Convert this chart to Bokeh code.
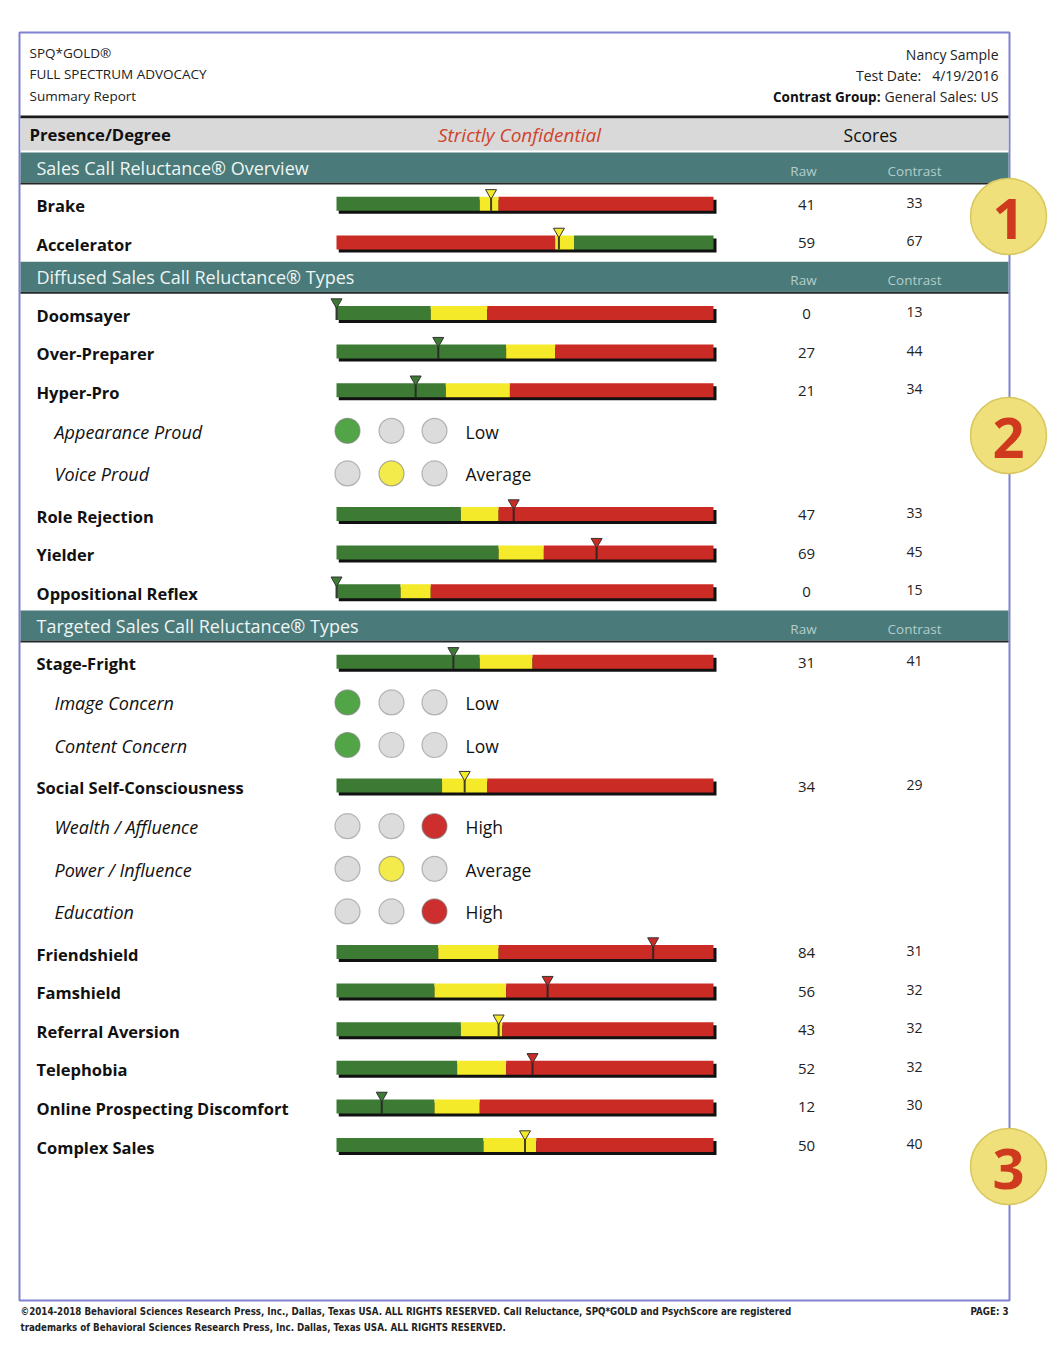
from bokeh.plotting import figure
from bokeh.models import Range1d, ColumnDataSource
from bokeh.embed import file_html
from bokeh.resources import INLINE
from bokeh.core.properties import value

# ---------------- data ----------------
section_titles = ["Sales Call Reluctance\u00ae Overview",
                  "Diffused Sales Call Reluctance\u00ae Types",
                  "Targeted Sales Call Reluctance\u00ae Types"]

bar_names = ["Brake", "Accelerator", "Doomsayer", "Over-Preparer", "Hyper-Pro",
             "Role Rejection", "Yielder", "Oppositional Reflex", "Stage-Fright",
             "Social Self-Consciousness", "Friendshield", "Famshield",
             "Referral Aversion", "Telephobia", "Online Prospecting Discomfort",
             "Complex Sales"]
raw_scores = [41, 59, 0, 27, 21, 47, 69, 0, 31, 34, 84, 56, 43, 52, 12, 50]
contrast_scores = [33, 67, 13, 44, 34, 33, 45, 15, 41, 29, 31, 32, 32, 32, 30, 40]
zone_low_end = [38, 58, 25, 45, 29, 33, 43, 17, 38, 28, 27, 26, 33, 32, 26, 39]
zone_mid_end = [43, 63, 40, 58, 46, 43, 55, 25, 52, 40, 43, 45, 44, 45, 38, 53]
reversed_scale = [False, True] + [False] * 14

sub_names = ["Appearance Proud", "Voice Proud", "Image Concern", "Content Concern",
             "Wealth / Affluence", "Power / Influence", "Education"]
sub_level = [0, 1, 0, 0, 2, 1, 2]
level_labels = ["Low", "Average", "High"]

# row sequence: S = section band, B = bar row, C = circle sub-row
row_sequence = ["S", "B", "B",
                "S", "B", "B", "B", "C", "C", "B", "B", "B",
                "S", "B", "C", "C", "B", "C", "C", "C", "B", "B", "B", "B", "B", "B"]

badge_numbers = ["1", "2", "3"]

# ---------------- styles / layout ----------------
GREEN = "#3d7a34"
YELLOW = "#f4ea2a"
RED = "#cb2b25"
TEAL = "#4a7b7a"
C_GREEN = "#52a547"
C_YELLOW = "#f3ea4c"
C_RED = "#cc2f2d"
C_GRAY = "#dcdcdc"

FONT = value("Open Sans")
BAR_L, BAR_R = 336, 713
W, H = 1048, 1360

p = figure(width=W, height=H, x_range=Range1d(0, W), y_range=Range1d(H, 0),
           output_backend="svg", toolbar_location=None, min_border=0,
           x_axis_type=None, y_axis_type=None)
p.grid.visible = False
p.outline_line_color = None
p.background_fill_color = "white"
p.border_fill_color = "white"

px_per_unit = (BAR_R - BAR_L) / 100.0
p.extra_x_ranges = {"bar": Range1d(-BAR_L / px_per_unit,
                                   100 + (W - BAR_R) / px_per_unit)}

# page border
p.quad(left=[19], right=[1009], top=[32], bottom=[1300], fill_color=None,
       line_color="#8081d0", line_width=2)

# header texts
p.text(x=[29, 29, 29], y=[52, 73, 95],
       text=["SPQ*GOLD\u00ae", "FULL SPECTRUM ADVOCACY", "Summary Report"],
       text_font=FONT, text_font_size="13.5px", text_color="#222222",
       text_baseline="middle")
p.text(x=[998, 998, 998], y=[54, 75, 96],
       text=["Nancy Sample", "Test Date:\u00a0\u00a0 4/19/2016", "General Sales: US"],
       text_font=FONT, text_font_size="14px", text_color="#222222",
       text_align="right", text_baseline="middle")
p.text(x=[880], y=[96], text=["Contrast Group:"], text_font=FONT,
       text_font_size="13.5px", text_font_style="bold", text_color="#111111",
       text_align="right", text_baseline="middle")

# grey title band
p.quad(left=[20], right=[1008], top=[115], bottom=[118], fill_color="#1a1a1a",
       line_color=None)
p.quad(left=[20], right=[1008], top=[118], bottom=[150], fill_color="#d9d9d9",
       line_color=None)
p.text(x=[29], y=[134], text=["Presence/Degree"], text_font=FONT,
       text_font_size="16.7px", text_font_style="bold", text_color="#111111",
       text_baseline="middle")
p.text(x=[519], y=[134], text=["Strictly Confidential"], text_font=FONT,
       text_font_size="19px", text_font_style="italic", text_color="#d0432c",
       text_align="center", text_baseline="middle")
p.text(x=[870], y=[134], text=["Scores"], text_font=FONT, text_font_size="17.5px",
       text_color="#111111", text_align="center", text_baseline="middle")

# ---------------- compute row layout ----------------
BAND_H, BAR_ROW_H, CIRC_ROW_H = 32.0, 38.6, 42.6
y = 152.0
band_tops, bar_y, circ_y = [], [], []
for kind in row_sequence:
    if kind == "S":
        band_tops.append(y)
        y += BAND_H
    elif kind == "B":
        bar_y.append(y + BAR_ROW_H / 2)
        y += BAR_ROW_H
    else:
        circ_y.append(y + CIRC_ROW_H / 2)
        y += CIRC_ROW_H

# section bands
p.quad(left=[20] * 3, right=[1008] * 3, top=band_tops,
       bottom=[t + BAND_H - 2 for t in band_tops], fill_color=TEAL, line_color=None)
p.quad(left=[20] * 3, right=[1008] * 3, top=[t + BAND_H - 2 for t in band_tops],
       bottom=[t + BAND_H for t in band_tops], fill_color="#1f2b2b", line_color=None)
p.text(x=[36] * 3, y=[t + 15 for t in band_tops], text=section_titles,
       text_font=FONT, text_font_size="18px", text_color="#eef4f4",
       text_baseline="middle")
p.text(x=[803] * 3, y=[t + 18 for t in band_tops], text=["Raw"] * 3,
       text_font=FONT, text_font_size="13.5px", text_color="#b4cccc",
       text_align="center", text_baseline="middle")
p.text(x=[914] * 3, y=[t + 18 for t in band_tops], text=["Contrast"] * 3,
       text_font=FONT, text_font_size="13.5px", text_color="#b4cccc",
       text_align="center", text_baseline="middle")

# ---------------- bars ----------------
BH = 7.0  # half bar height (px)
shadow = ColumnDataSource(dict(
    l=[0.6] * len(bar_names), r=[100.8] * len(bar_names),
    t=[yy - BH + 3 for yy in bar_y], b=[yy + BH + 3 for yy in bar_y]))
p.quad(left="l", right="r", top="t", bottom="b", source=shadow,
       fill_color="#111111", line_color=None, x_range_name="bar")

seg_l, seg_r, seg_t, seg_b, seg_c = [], [], [], [], []
mk_x, mk_y, mk_c, ln_top, ln_bot = [], [], [], [], []
for i in range(len(bar_names)):
    colors = [RED, YELLOW, GREEN] if reversed_scale[i] else [GREEN, YELLOW, RED]
    bounds = [0, zone_low_end[i], zone_mid_end[i], 100]
    for k in range(3):
        seg_l.append(bounds[k]); seg_r.append(bounds[k + 1])
        seg_t.append(bar_y[i] - BH); seg_b.append(bar_y[i] + BH)
        seg_c.append(colors[k])
    v = raw_scores[i]
    zone = 0 if v < bounds[1] else (1 if v < bounds[2] else 2)
    mk_x.append(v); mk_y.append(bar_y[i] - BH - 4); mk_c.append(colors[zone])
    ln_top.append(bar_y[i] - BH - 4); ln_bot.append(bar_y[i] + BH)

p.quad(left=seg_l, right=seg_r, top=seg_t, bottom=seg_b, fill_color=seg_c,
       line_color=None, x_range_name="bar")
p.segment(x0=mk_x, x1=mk_x, y0=ln_top, y1=ln_bot, line_color="#222222",
          line_width=2, line_alpha=0.85, x_range_name="bar")
p.scatter(x=mk_x, y=mk_y, marker="inverted_triangle", size=11, fill_color=mk_c,
          line_color="#333333", line_width=1, x_range_name="bar")

# bar labels & scores
p.text(x=[36] * len(bar_names), y=[yy + 2 for yy in bar_y], text=bar_names,
       text_font=FONT, text_font_size="16.5px", text_font_style="bold",
       text_color="#111111", text_baseline="middle")
p.text(x=[806] * len(bar_names), y=[yy + 1 for yy in bar_y],
       text=[str(v) for v in raw_scores], text_font=FONT, text_font_size="15px",
       text_color="#222222", text_align="center", text_baseline="middle")
p.text(x=[914] * len(bar_names), y=[yy - 1 for yy in bar_y],
       text=[str(v) for v in contrast_scores], text_font=FONT, text_font_size="14px",
       text_color="#222222", text_align="center", text_baseline="middle")

# ---------------- circle sub rows ----------------
circle_x_px = [347, 391, 434]
active_colors = [C_GREEN, C_YELLOW, C_RED]
cx, cy, cf, cl = [], [], [], []
for j in range(len(sub_names)):
    for k in range(3):
        cx.append(circle_x_px[k]); cy.append(circ_y[j])
        on = (k == sub_level[j])
        cf.append(active_colors[k] if on else C_GRAY)
        cl.append("#8c8c8c" if not on else "#7a7a7a")
p.circle(x=cx, y=cy, radius=12.5, fill_color=cf, line_color=cl, line_width=1.2,
         line_alpha=0.6)
p.text(x=[54] * len(sub_names), y=[yy + 1 for yy in circ_y], text=sub_names,
       text_font=FONT, text_font_size="18px", text_font_style="italic",
       text_color="#111111", text_baseline="middle")
p.text(x=[465] * len(sub_names), y=[yy + 1 for yy in circ_y],
       text=[level_labels[l] for l in sub_level], text_font=FONT,
       text_font_size="17.5px", text_color="#111111", text_baseline="middle")

# ---------------- badges ----------------
badge_y = [216, 435, 1166]
p.circle(x=[1008] * 3, y=badge_y, radius=38, fill_color="#efe07c",
         line_color="#d9c860", line_width=1.5)
p.text(x=[1008] * 3, y=[yy + 2 for yy in badge_y], text=badge_numbers,
       text_font=FONT, text_font_size="56px", text_font_style="bold",
       text_color="#cf3a1f", text_align="center", text_baseline="middle")

# ---------------- footer ----------------
p.text(x=[20, 20], y=[1311, 1327],
       text=["\u00a92014-2018 Behavioral Sciences Research Press, Inc., Dallas, Texas USA. ALL RIGHTS RESERVED. Call Reluctance, SPQ*GOLD and PsychScore are registered",
             "trademarks of Behavioral Sciences Research Press, Inc. Dallas, Texas USA. ALL RIGHTS RESERVED."],
       text_font=value("DejaVu Sans Condensed"), text_font_size="9.7px",
       text_font_style="bold", text_color="#222222", text_baseline="middle")
p.text(x=[1008], y=[1311], text=["PAGE: 3"], text_font=value("DejaVu Sans Condensed"),
       text_font_size="9.7px", text_font_style="bold", text_color="#222222",
       text_align="right", text_baseline="middle")

open("out.html", "w").write(file_html(p, INLINE))
